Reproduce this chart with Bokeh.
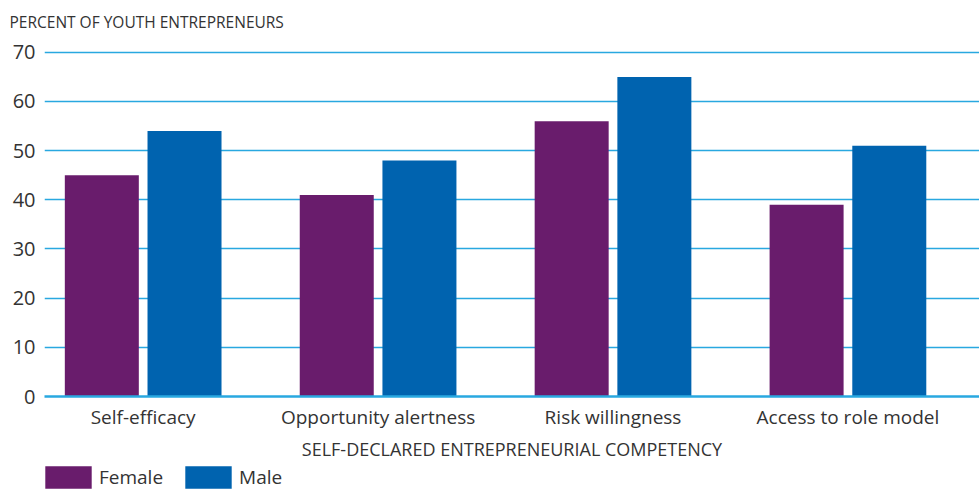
from bokeh.plotting import figure
from bokeh.models import ColumnDataSource, FixedTicker, Range1d, Legend, LegendItem
from bokeh.layouts import column
from bokeh.embed import file_html
from bokeh.resources import INLINE
from bokeh.transform import dodge

categories = ["Self-efficacy", "Opportunity alertness", "Risk willingness", "Access to role model"]
female = [45, 41, 56, 39]
male = [54, 48, 65, 51]
y_ticks = [0, 10, 20, 30, 40, 50, 60, 70]
series_names = ["Female", "Male"]

FONT = "Open Sans"
TXT = "#333333"
GRID = "#29A8E0"
C_F = "#691C6C"
C_M = "#0063AF"

xs = list(range(len(categories)))
src = ColumnDataSource(dict(x=xs, female=female, male=male))

p = figure(width=979, height=463, output_backend="svg", toolbar_location=None,
           x_range=Range1d(-0.42, 3.56), y_range=Range1d(0, 72.4),
           min_border_left=44, min_border_right=0, min_border_top=40, min_border_bottom=0)
p.outline_line_color = None
p.background_fill_color = "white"

p.vbar(x=dodge("x", -0.176, range=p.x_range), top="female", width=0.315, source=src,
       color=C_F, line_color=None)
p.vbar(x=dodge("x", 0.176, range=p.x_range), top="male", width=0.315, source=src,
       color=C_M, line_color=None)

p.title.text = "PERCENT OF YOUTH ENTREPRENEURS"
p.title.text_font = FONT
p.title.text_font_size = "15.5px"
p.title.text_font_style = "normal"
p.title.text_color = TXT
p.title.offset = -35
p.title.standoff = 16

# y axis
p.yaxis.ticker = FixedTicker(ticks=y_ticks)
p.yaxis.axis_line_color = None
p.yaxis.major_tick_line_color = None
p.yaxis.minor_tick_line_color = None
p.yaxis.major_label_text_font = FONT
p.yaxis.major_label_text_font_size = "20px"
p.yaxis.major_label_text_color = TXT
p.yaxis.major_label_standoff = 3
p.ygrid.ticker = FixedTicker(ticks=y_ticks[1:])
p.ygrid.grid_line_color = GRID
p.ygrid.grid_line_width = 1.3
p.xgrid.grid_line_color = None

# x axis
p.xaxis.ticker = FixedTicker(ticks=xs)
p.xaxis.major_label_overrides = {i: c for i, c in enumerate(categories)}
p.xaxis.axis_line_color = GRID
p.xaxis.axis_line_width = 2.5
p.xaxis.major_tick_line_color = None
p.xaxis.minor_tick_line_color = None
p.xaxis.major_tick_out = 0
p.xaxis.major_label_text_font = FONT
p.xaxis.major_label_text_font_size = "19px"
p.xaxis.major_label_text_color = TXT
p.xaxis.major_label_standoff = 7
p.xaxis.axis_label = "SELF-DECLARED ENTREPRENEURIAL COMPETENCY"
p.xaxis.axis_label_text_font = FONT
p.xaxis.axis_label_text_font_size = "18px"
p.xaxis.axis_label_text_font_style = "normal"
p.xaxis.axis_label_text_color = TXT
p.xaxis.axis_label_standoff = 4

# legend strip: hidden renderers supply the legend swatches only
q = figure(width=979, height=28, output_backend="svg", toolbar_location=None,
           x_range=p.x_range, y_range=Range1d(-2, -1),
           min_border_left=44, min_border_right=0, min_border_top=0, min_border_bottom=0)
q.outline_line_color = None
q.axis.visible = False
q.grid.visible = False
lf = q.vbar(x="x", top="female", width=0.3, source=src, color=C_F, line_color=None)
lm = q.vbar(x="x", top="male", width=0.3, source=src, color=C_M, line_color=None)
lf.visible = False
lm.visible = False
legend = Legend(items=[LegendItem(label=series_names[0], renderers=[lf]),
                       LegendItem(label=series_names[1], renderers=[lm])],
                orientation="horizontal", location=(-5, 0),
                glyph_width=58, glyph_height=28, label_standoff=2, spacing=16,
                padding=0, margin=0, border_line_color=None, background_fill_alpha=0,
                inactive_fill_alpha=0,
                label_text_font=FONT, label_text_font_size="19px", label_text_color=TXT)
q.add_layout(legend, "center")

layout = column(p, q, spacing=0)
open("out.html", "w").write(file_html(layout, INLINE))
